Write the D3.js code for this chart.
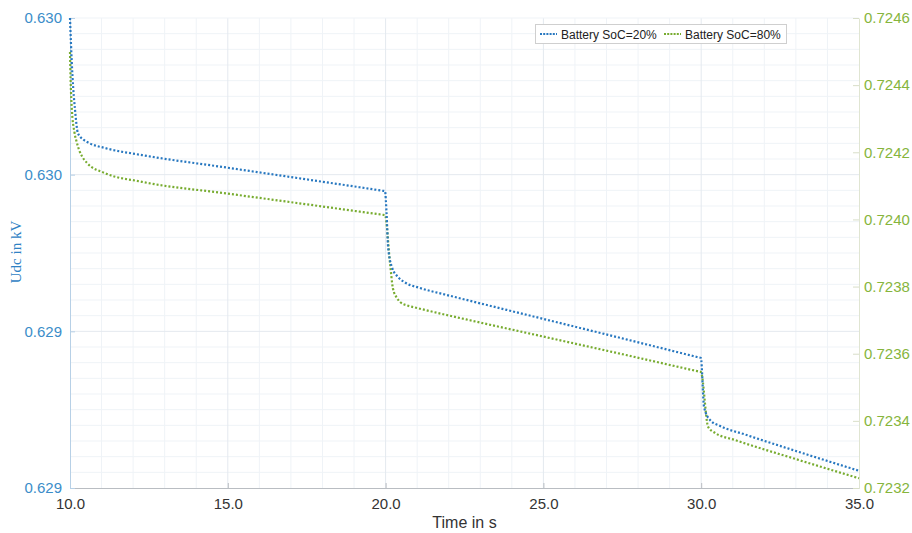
<!DOCTYPE html>
<html>
<head>
<meta charset="utf-8">
<script src="https://cdn.jsdelivr.net/npm/d3@7"></script>
<style>
  html, body { margin: 0; padding: 0; background: #fff; }
  svg { display: block; }
</style>
</head>
<body>
<svg id="chart" width="912" height="533"></svg>
<script>
// ---- data ----
const seriesNames = ["Battery SoC=20%", "Battery SoC=80%"];

// Battery SoC=20% (left axis, kV)
const timeSoc20 = [10.0, 10.03, 10.08, 10.16, 10.25, 10.42, 10.6, 11.11, 12.28, 15.0, 17.5, 19.9, 19.98,
                   20.03, 20.08, 20.2, 20.39, 20.61, 21.09, 21.88, 22.67, 25.0, 27.5, 29.9, 29.99,
                   30.09, 30.28, 30.6, 31.39, 33.0, 35.0];
const udcSoc20 = [0.63020, 0.630136, 0.630049, 0.629965, 0.629906, 0.629890, 0.629881, 0.629868, 0.629850, 0.6298177, 0.6297879, 0.629759, 0.629758,
                  0.629702, 0.629615, 0.629564, 0.629539, 0.629525, 0.6295106, 0.629494, 0.629478, 0.6294317, 0.629382, 0.6293338, 0.629332,
                  0.6292068, 0.6291736, 0.6291583, 0.6291366, 0.6290945, 0.6290439];

// Battery SoC=80% (right axis, kV)
const timeSoc80 = [10.0, 10.02, 10.06, 10.14, 10.22, 10.54, 11.11, 12.28, 15.0, 17.5, 19.9, 19.98,
                   20.14, 20.23, 20.36, 20.46, 20.68, 20.93, 21.41, 22.2, 25.0, 27.5, 29.9, 29.99,
                   30.22, 30.44, 31.07, 33.0, 35.0];
const udcSoc80 = [0.724499, 0.724415, 0.724326, 0.724260, 0.724228, 0.724168, 0.724138, 0.724112, 0.7240769, 0.724045, 0.724014, 0.724013,
                  0.723870, 0.7237958, 0.723766, 0.723754, 0.7237437, 0.7237377, 0.7237267, 0.7237097, 0.723651, 0.7235986, 0.7235475, 0.7235456,
                  0.723382, 0.723364, 0.723343, 0.7232861, 0.7232289];

const xTicks = [10, 15, 20, 25, 30, 35];
const leftTicks = [0.6290, 0.6294, 0.6298, 0.6302];
const rightTicks = [0.7232, 0.7234, 0.7236, 0.7238, 0.7240, 0.7242, 0.7244, 0.7246];

// ---- layout ----
const svg = d3.select("#chart");
const L = 70, R = 859, T = 18, B = 488;
const blue = "#2878c0", green = "#78ac30";
const blueText = "#3b8dc9", greenText = "#86b53c";

const x = d3.scaleLinear().domain([10, 35]).range([L, R]);
const yL = d3.scaleLinear().domain([0.6290, 0.6302]).range([B, T]);
const yR = d3.scaleLinear().domain([0.7232, 0.7246]).range([B, T]);

// ---- grid ----
const grid = svg.append("g");
const minorX = d3.range(11, 35, 1).filter(v => v % 5 !== 0);
grid.selectAll(".gxm").data(minorX).enter().append("line")
  .attr("x1", d => x(d)).attr("x2", d => x(d)).attr("y1", T).attr("y2", B)
  .attr("stroke", "#eff3f7").attr("stroke-width", 1);
const minorY = d3.range(0, 30).map(i => 0.6290 + i * 0.00004).filter(v => v < 0.63019);
grid.selectAll(".gym").data(minorY.filter((v, i) => i % 10 !== 0)).enter().append("line")
  .attr("x1", L).attr("x2", R).attr("y1", d => yL(d)).attr("y2", d => yL(d))
  .attr("stroke", "#eff3f7").attr("stroke-width", 1);
grid.selectAll(".gx").data(xTicks.slice(1, -1)).enter().append("line")
  .attr("x1", d => x(d)).attr("x2", d => x(d)).attr("y1", T).attr("y2", B)
  .attr("stroke", "#e4e9ef").attr("stroke-width", 1);
grid.selectAll(".gy").data(leftTicks.slice(1, -1)).enter().append("line")
  .attr("x1", L).attr("x2", R).attr("y1", d => yL(d)).attr("y2", d => yL(d))
  .attr("stroke", "#e4e9ef").attr("stroke-width", 1);
grid.append("line").attr("x1", L).attr("x2", R).attr("y1", T).attr("y2", T)
  .attr("stroke", "#eff3f7");

// ---- axes ----
const fmt3 = d3.format(".3f"), fmt4 = d3.format(".4f"), fmt1 = d3.format(".1f");

const gx = svg.append("g").attr("transform", `translate(0,${B})`)
  .call(d3.axisBottom(x).tickValues(xTicks).tickFormat(fmt1).tickSizeInner(-5).tickSizeOuter(0).tickPadding(10));
gx.select(".domain").attr("stroke", "#b9bdc2");
gx.selectAll(".tick line").attr("stroke", "#b9bdc2");
gx.selectAll(".tick text").attr("fill", "#333").attr("font-family", "Liberation Sans, Arial, sans-serif").attr("font-size", 15);

const gl = svg.append("g").attr("transform", `translate(${L},0)`)
  .call(d3.axisLeft(yL).tickValues(leftTicks).tickFormat(fmt3).tickSizeInner(-5).tickSizeOuter(0).tickPadding(8));
gl.select(".domain").attr("stroke", "#b7d0e6");
gl.selectAll(".tick line").attr("stroke", "#b7d0e6");
gl.selectAll(".tick text").attr("fill", blueText).attr("font-family", "Liberation Sans, Arial, sans-serif").attr("font-size", 15);

const gr = svg.append("g").attr("transform", `translate(${R},0)`)
  .call(d3.axisRight(yR).tickValues(rightTicks).tickFormat(fmt4).tickSizeInner(-6).tickSizeOuter(0).tickPadding(5));
gr.select(".domain").attr("stroke", "#e0e5d2");
gr.selectAll(".tick line").attr("stroke", "#d8dec8");
gr.selectAll(".tick text").attr("fill", greenText).attr("font-family", "Liberation Sans, Arial, sans-serif").attr("font-size", 15);

// axis titles
svg.append("text").attr("x", (L + R) / 2).attr("y", 528).attr("text-anchor", "middle")
  .attr("font-family", "Liberation Sans, Arial, sans-serif").attr("font-size", 16).attr("fill", "#333")
  .text("Time in s");
svg.append("text").attr("transform", `translate(21,${(T + B) / 2 - 1}) rotate(-90)`).attr("text-anchor", "middle")
  .attr("font-family", "Liberation Serif, Times New Roman, serif").attr("font-size", 15).attr("fill", "#2f82c4")
  .text("Udc in kV");

// ---- lines ----
const lineL = d3.line().x(d => x(d[0])).y(d => yL(d[1])).curve(d3.curveMonotoneX);
const lineR = d3.line().x(d => x(d[0])).y(d => yR(d[1])).curve(d3.curveMonotoneX);

svg.append("path").datum(d3.zip(timeSoc80, udcSoc80)).attr("d", lineR)
  .attr("fill", "none").attr("stroke", green).attr("stroke-width", 2.2).attr("stroke-dasharray", "2,2");
svg.append("path").datum(d3.zip(timeSoc20, udcSoc20)).attr("d", lineL)
  .attr("fill", "none").attr("stroke", blue).attr("stroke-width", 2.2).attr("stroke-dasharray", "2,2");

// ---- legend ----
const lg = svg.append("g");
lg.append("rect").attr("x", 535.5).attr("y", 24.5).attr("width", 251).attr("height", 19)
  .attr("fill", "#fff").attr("stroke", "#cfcfcf");
const colors = [blue, green];
const sx = [540, 664];
seriesNames.forEach((n, i) => {
  lg.append("line").attr("x1", sx[i]).attr("x2", sx[i] + 17).attr("y1", 34).attr("y2", 34)
    .attr("stroke", colors[i]).attr("stroke-width", 2.2).attr("stroke-dasharray", "2,1.2");
  lg.append("text").attr("x", sx[i] + 21).attr("y", 38.5)
    .attr("font-family", "Liberation Sans, Arial, sans-serif").attr("font-size", 12).attr("fill", "#222")
    .text(n);
});
</script>
</body>
</html>
